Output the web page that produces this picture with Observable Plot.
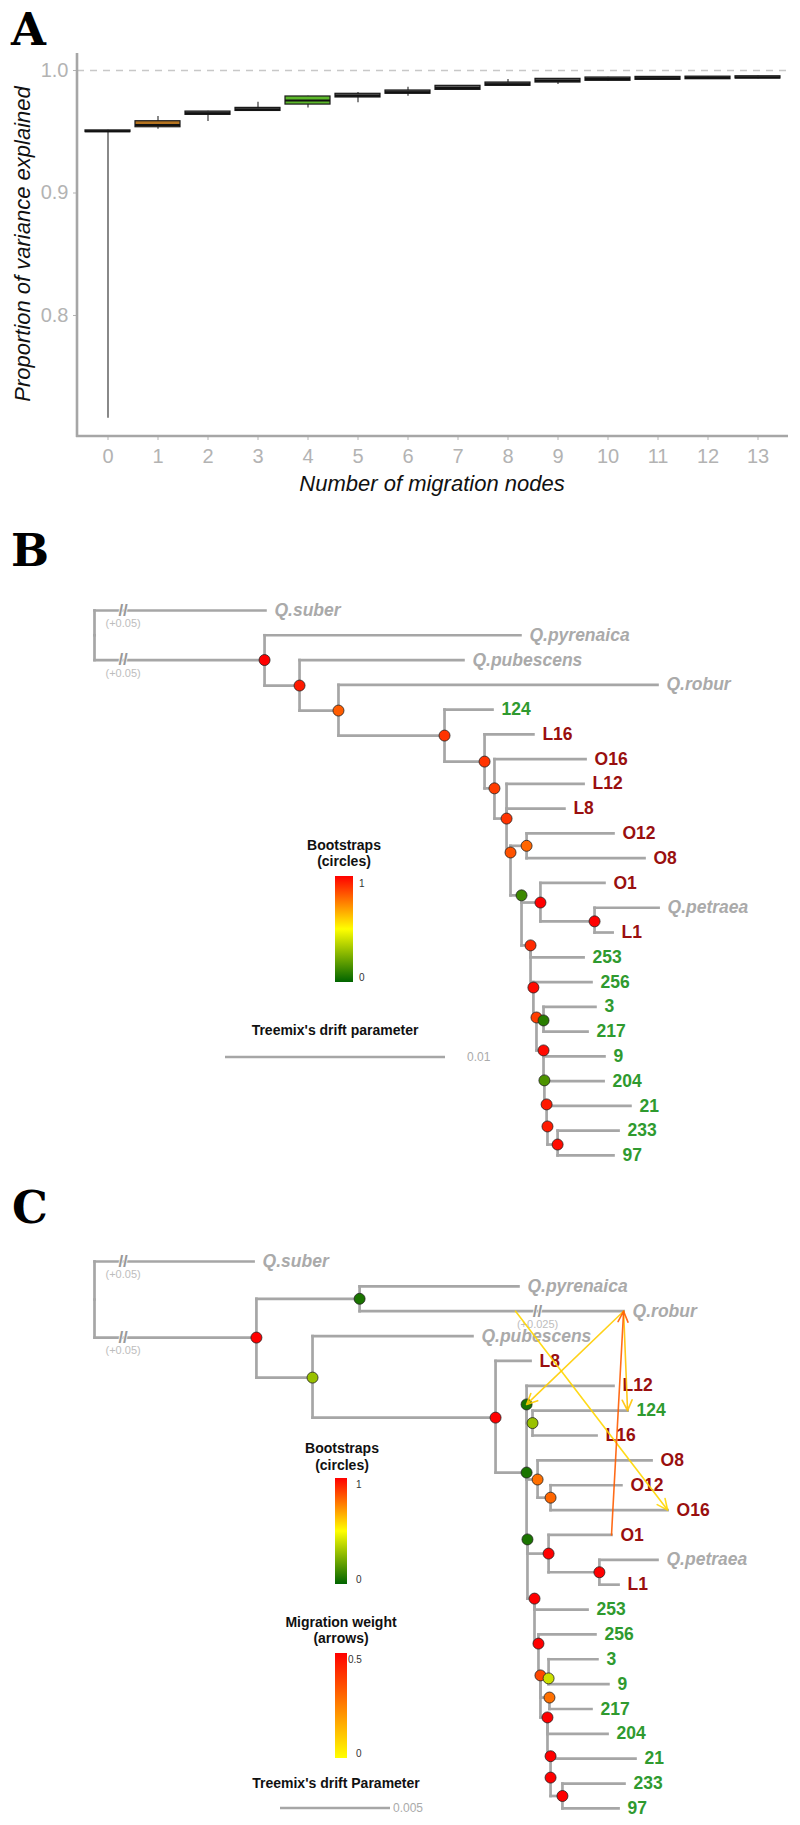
<!DOCTYPE html>
<html><head><meta charset="utf-8">
<script src="https://cdn.jsdelivr.net/npm/d3@7"></script>
<script src="https://cdn.jsdelivr.net/npm/@observablehq/plot@0.6"></script>
<style>
body{margin:0;background:#fff;}
#wrap{position:relative;width:800px;height:1825px;overflow:hidden;background:#fff;}
.panel{position:absolute;left:0;}
.panel svg{display:block;}
</style></head><body><div id="wrap"></div>
<script>
// ---------------- Panel A data ----------------
const migrationNodes = [0,1,2,3,4,5,6,7,8,9,10,11,12,13];
const boxQ1     = [0.9497,0.9537,0.9638,0.9670,0.9722,0.9780,0.9810,0.9842,0.9875,0.9902,0.9916,0.9924,0.9929,0.9935];
const boxMedian = [0.9504,0.9555,0.9652,0.9682,0.9755,0.9795,0.9823,0.9858,0.9888,0.9917,0.9930,0.9936,0.9940,0.9944];
const boxQ3     = [0.9511,0.9586,0.9665,0.9695,0.9788,0.9810,0.9837,0.9875,0.9902,0.9932,0.9943,0.9948,0.9950,0.9953];
const whiskerLow  = [0.716,0.9520,0.9584,0.9668,0.9695,0.9736,0.9790,0.9838,0.9870,0.9886,0.9912,0.9922,0.9927,0.9933];
const whiskerHigh = [0.9512,0.9624,0.9668,0.9741,0.9790,0.9820,0.9864,0.9878,0.9927,0.9934,0.9945,0.9950,0.9952,0.9955];
const yTicksA = [0.8, 0.9, 1.0];
const referenceLine = 1.0;

// ---------------- Panel B tree ----------------
// [id, parent, drift, row, bootstrap]
const nodesB = [
  ["R",null,0,1,null],
  ["N1","R",0.00773,2,1.0],
  ["N2","N1",0.00932,3.03,0.95],
  ["N3","N2",0.01109,4.04,0.82],
  ["N4","N3",0.01591,5.05,0.9],
  ["N5","N4",0.01773,6.1,0.9],
  ["N6","N5",0.01818,7.18,0.88],
  ["N7","N6",0.01873,8.4,0.9],
  ["N8","N7",0.01891,9.77,0.84],
  ["ON","N8",0.01964,9.5,0.8],
  ["G","N8",0.01941,11.5,0.12],
  ["O1N","G",0.02027,11.79,1.0],
  ["PN","O1N",0.02273,12.55,1.0],
  ["H","G",0.01982,13.52,0.92],
  ["I","H",0.01995,15.22,0.98],
  ["J","I",0.02009,16.43,0.88],
  ["K","J",0.02041,16.55,0.08],
  ["L","J",0.02041,17.76,0.98],
  ["M","L",0.02045,18.97,0.15],
  ["N","M",0.02055,19.94,0.95],
  ["P","N",0.02059,20.83,0.95],
  ["Q","P",0.02105,21.56,0.98]
];
// [label, parent, drift, row, group]
const tipsB = [
  ["Q.suber","R",0.00777,0,"species"],
  ["Q.pyrenaica","N1",0.01936,1,"species"],
  ["Q.pubescens","N2",0.01677,2,"species"],
  ["Q.robur","N3",0.02559,3,"species"],
  ["124","N4",0.01809,4,"num"],
  ["L16","N5",0.01995,5,"pop"],
  ["O16","N6",0.02232,6,"pop"],
  ["L12","N7",0.02223,7,"pop"],
  ["L8","N7",0.02136,8,"pop"],
  ["O12","ON",0.02359,9,"pop"],
  ["O8","ON",0.0250,10,"pop"],
  ["O1","O1N",0.02318,11,"pop"],
  ["Q.petraea","PN",0.02564,12,"species"],
  ["L1","PN",0.02355,13,"pop"],
  ["253","H",0.02223,14,"num"],
  ["256","I",0.02259,15,"num"],
  ["3","K",0.02277,16,"num"],
  ["217","K",0.02241,17,"num"],
  ["9","L",0.02318,18,"num"],
  ["204","M",0.02314,19,"num"],
  ["21","N",0.02436,20,"num"],
  ["233","Q",0.02382,21,"num"],
  ["97","Q",0.02359,22,"num"]
];
// [branch end, drift where break sits, label]
const breaksB = [["Q.suber",0.0013,"(+0.05)"],["N1",0.0013,"(+0.05)"]];

// ---------------- Panel C tree ----------------
const nodesC = [
  ["R",null,0,1.53,null],
  ["N1C","R",0.00736,3.06,1.0],
  ["PR","N1C",0.01205,1.5,0.05],
  ["N2C","N1C",0.00991,4.67,0.3],
  ["N3C","N2C",0.01823,6.28,1.0],
  ["N4C","N3C",0.01964,8.49,0.05],
  ["A_C","N4C",0.01964,5.75,0.05],
  ["B_C","A_C",0.01991,6.5,0.3],
  ["OC","N4C",0.02014,8.77,0.78],
  ["OC2","OC",0.02073,9.5,0.8],
  ["G_C","N4C",0.01968,11.18,0.05],
  ["O1N","G_C",0.02064,11.75,1.0],
  ["PN","O1N",0.02295,12.5,1.0],
  ["H_C","G_C",0.0200,13.56,1.0],
  ["I_C","H_C",0.02018,15.37,1.0],
  ["J_C","I_C",0.02027,16.65,0.86],
  ["K_C","J_C",0.02064,16.77,0.4],
  ["O217","J_C",0.02068,17.54,0.78],
  ["L_C","J_C",0.02059,18.34,1.0],
  ["N_C","L_C",0.02073,19.9,1.0],
  ["P_C","N_C",0.02073,20.76,1.0],
  ["Q_C","P_C",0.02127,21.5,1.0]
];
const tipsC = [
  ["Q.suber","R",0.00723,0,"species"],
  ["Q.pyrenaica","PR",0.01927,1,"species"],
  ["Q.robur","PR",0.02405,2,"species"],
  ["Q.pubescens","N2C",0.01718,3,"species"],
  ["L8","N3C",0.01982,4,"pop"],
  ["L12","A_C",0.02359,5,"pop"],
  ["124","B_C",0.02423,6,"num"],
  ["L16","B_C",0.02282,7,"pop"],
  ["O8","OC",0.02532,8,"pop"],
  ["O12","OC2",0.02395,9,"pop"],
  ["O16","OC2",0.02605,10,"pop"],
  ["O1","O1N",0.0235,11,"pop"],
  ["Q.petraea","PN",0.02559,12,"species"],
  ["L1","PN",0.02382,13,"pop"],
  ["253","H_C",0.02241,14,"num"],
  ["256","I_C",0.02277,15,"num"],
  ["3","K_C",0.02286,16,"num"],
  ["9","K_C",0.02336,17,"num"],
  ["217","O217",0.02259,18,"num"],
  ["204","L_C",0.02332,19,"num"],
  ["21","N_C",0.02459,20,"num"],
  ["233","Q_C",0.02409,21,"num"],
  ["97","Q_C",0.02382,22,"num"]
];
const breaksC = [["Q.suber",0.0013,"(+0.05)"],["N1C",0.0013,"(+0.05)"],["Q.robur",0.02014,"(+0.025)"]];
// [from, drift on source branch (null = node itself), to, weight]
const migrationsC = [
  ["Q.robur",0.01914,"O16",0.08],
  ["Q.robur",null,"A_C",0.10],
  ["Q.robur",null,"124",0.12],
  ["O1",null,"Q.robur",0.32]
];

// ---------------- styles ----------------
const FONT = "'Liberation Sans', Arial, Helvetica, sans-serif";
const TREE = "#a6a6a6";
const AXIS = "#a6a6a6";
const TICK_TXT = "#b3b3b3";
const highlight = {1: "#b5731f", 4: "#5cb82a"};
const groupColor = {species: "#aaaaaa", pop: "#990f0f", num: "#2f9a2f"};
const bootColor = d3.scaleLinear().domain([0, 0.5, 1]).range(["#006400", "#ffff00", "#ff0000"]);
const migColor = d3.scaleLinear().domain([0, 0.5]).range(["#ffff00", "#ff0000"]);

const wrap = document.getElementById("wrap");
function place(el, top) {
  const d = document.createElement("div");
  d.className = "panel"; d.style.top = top + "px";
  d.appendChild(el); wrap.appendChild(d);
}
function letter(svg, t, x, y) {
  d3.select(svg).append("text").attr("x", x).attr("y", y).text(t)
    .attr("text-anchor", "start")
    .attr("font-family", "'DejaVu Serif', 'Liberation Serif', serif")
    .attr("font-weight", "bold").attr("font-size", 45).attr("fill", "#000");
}

// ---------------- Panel A ----------------
const boxes = migrationNodes.map((n, i) => ({n, q1: boxQ1[i], q3: boxQ3[i], med: boxMedian[i], lo: whiskerLow[i], hi: whiskerHigh[i]}));
const yDomainA = [0.7012, 1.0139];
const plotA = Plot.plot({
  width: 800, height: 530,
  marginLeft: 77, marginRight: 12, marginTop: 53, marginBottom: 94,
  style: {fontFamily: FONT, background: "white", overflow: "visible"},
  x: {type: "band", domain: migrationNodes, paddingInner: 0.1, paddingOuter: 0.15, axis: null},
  y: {domain: yDomainA, axis: null},
  color: {type: "identity"},
  marks: [
    Plot.ruleY([referenceLine], {stroke: "#c8c8c8", strokeWidth: 1.4, strokeDasharray: "7,6"}),
    Plot.ruleX(boxes, {x: "n", y1: "lo", y2: "hi", stroke: "#6b6b6b", strokeWidth: 1.6}),
    Plot.barY(boxes, {x: "n", y1: "q1", y2: "q3", fill: d => highlight[d.n] ?? "#5a5a5a", stroke: "#1a1a1a", strokeWidth: 1.2}),
    Plot.tickY(boxes, {x: "n", y: "med", stroke: "#111", strokeWidth: 2}),
    Plot.axisX({tickSize: 4, tickPadding: 8, fontSize: 20, color: TICK_TXT, label: null}),
    Plot.axisY({ticks: yTicksA, tickFormat: d => d.toFixed(1), tickSize: 4, tickPadding: 5, fontSize: 20, color: TICK_TXT, label: null})
  ]
});
{
  const s = d3.select(plotA);
  s.append("line").attr("x1", 77).attr("x2", 77).attr("y1", 53).attr("y2", 437).attr("stroke", AXIS).attr("stroke-width", 2.6);
  s.append("line").attr("x1", 76).attr("x2", 788).attr("y1", 436).attr("y2", 436).attr("stroke", AXIS).attr("stroke-width", 2.6);
  s.append("text").attr("x", 432).attr("y", 491).attr("text-anchor", "middle")
    .attr("font-family", FONT).attr("font-style", "italic").attr("font-size", 22).attr("fill", "#111")
    .text("Number of migration nodes");
  s.append("text").attr("transform", "translate(30,244) rotate(-90)").attr("text-anchor", "middle")
    .attr("font-family", FONT).attr("font-style", "italic").attr("font-size", 22).attr("fill", "#111")
    .text("Proportion of variance explained");
  letter(plotA, "A", 11, 45);
}
place(plotA, 0);

// ---------------- tree helper ----------------
function buildTree(nodes, tips) {
  const all = new Map();
  nodes.forEach(([id, parent, drift, row, boot]) => all.set(id, {id, parent, drift, row, boot}));
  tips.forEach(([id, parent, drift, row, group]) => all.set(id, {id, parent, drift, row, group, tip: true}));
  const segs = [];
  for (const n of all.values()) {
    if (!n.parent) continue;
    const p = all.get(n.parent);
    segs.push({x1: p.drift, y1: p.row, x2: p.drift, y2: n.row});
    segs.push({x1: p.drift, y1: n.row, x2: n.drift, y2: n.row});
  }
  const inner = [...all.values()].filter(n => !n.tip && n.boot != null);
  const tipList = [...all.values()].filter(n => n.tip);
  return {all, segs, inner, tipList};
}
function treeMarks(T, breaks) {
  const br = breaks.map(([id, at, label]) => ({at, row: T.all.get(id).row, label}));
  return [
    Plot.link(T.segs, {x1: "x1", y1: "y1", x2: "x2", y2: "y2", stroke: TREE, strokeWidth: 2.7, strokeLinecap: "square"}),
    Plot.text(br, {x: "at", y: "row", text: () => "//", fontSize: 17, fontWeight: "bold", fill: "#999", stroke: "white", strokeWidth: 1.5, paintOrder: "stroke"}),
    Plot.text(br, {x: "at", y: "row", text: "label", dy: 13, fontSize: 11, fill: "#bdbdbd"}),
    Plot.text(T.tipList.filter(d => d.group === "species"), {x: "drift", y: "row", text: "id", dx: 9, textAnchor: "start", fill: groupColor.species, fontSize: 17.5, fontWeight: "bold", fontStyle: "italic"}),
    Plot.text(T.tipList.filter(d => d.group !== "species"), {x: "drift", y: "row", text: "id", dx: 9, textAnchor: "start", fill: d => groupColor[d.group], fontSize: 17.5, fontWeight: "bold"})
  ];
}
function gradientBar(svg, id, scale, domain, x, y, w, h) {
  const s = d3.select(svg);
  const g = s.append("defs").append("linearGradient").attr("id", id)
    .attr("x1", 0).attr("y1", 1).attr("x2", 0).attr("y2", 0);
  d3.range(0, 1.0001, 0.1).forEach(t => g.append("stop").attr("offset", t).attr("stop-color", scale(domain[0] + t * (domain[1] - domain[0]))));
  s.append("rect").attr("x", x).attr("y", y).attr("width", w).attr("height", h).attr("fill", `url(#${id})`);
}
function txt(svg, t, x, y, o = {}) {
  d3.select(svg).append("text").attr("x", x).attr("y", y).text(t)
    .attr("font-family", FONT).attr("font-size", o.size ?? 14).attr("font-weight", o.weight ?? "bold")
    .attr("fill", o.fill ?? "#111").attr("text-anchor", o.anchor ?? "middle")
    .attr("dominant-baseline", o.baseline ?? "auto");
}

// ---------------- Panel B ----------------
const TB = buildTree(nodesB, tipsB);
const plotB = Plot.plot({
  width: 800, height: 650, margin: 0,
  style: {fontFamily: FONT, background: "white", overflow: "visible"},
  x: {domain: [0, 0.03], range: [94, 754], axis: null},
  y: {domain: [0, 22], range: [80, 80 + 22 * 24.77], axis: null},
  color: {type: "identity"},
  marks: [
    ...treeMarks(TB, breaksB),
    Plot.dot(TB.inner, {x: "drift", y: "row", r: 5.5, fill: d => bootColor(d.boot), stroke: "#222", strokeWidth: 0.8})
  ]
});
{
  const sx = plotB.scale("x");
  letter(plotB, "B", 11, 36);
  txt(plotB, "Bootstraps", 344, 320);
  txt(plotB, "(circles)", 344, 336);
  gradientBar(plotB, "gB", bootColor, [0, 1], 335, 346, 18, 106);
  txt(plotB, "1", 359, 354, {size: 10, weight: "normal", anchor: "start", baseline: "middle", fill: "#333"});
  txt(plotB, "0", 359, 448, {size: 10, weight: "normal", anchor: "start", baseline: "middle", fill: "#333"});
  txt(plotB, "Treemix's drift parameter", 335, 505);
  const len = sx.apply(0.01) - sx.apply(0);
  d3.select(plotB).append("line").attr("x1", 225).attr("x2", 225 + len).attr("y1", 527).attr("y2", 527)
    .attr("stroke", TREE).attr("stroke-width", 2.7);
  txt(plotB, "0.01", 467, 528, {size: 12, weight: "normal", anchor: "start", baseline: "middle", fill: "#aaa"});
}
place(plotB, 530);

// ---------------- Panel C ----------------
const TC = buildTree(nodesC, tipsC);
const migs = migrationsC.map(([from, at, to, w]) => {
  const f = TC.all.get(from), t = TC.all.get(to);
  return {fx: at ?? f.drift, fy: f.row, tx: t.drift, ty: t.row, w};
});
const plotC = Plot.plot({
  width: 800, height: 645, margin: 0,
  style: {fontFamily: FONT, background: "white", overflow: "visible"},
  x: {domain: [0, 0.03], range: [94, 754], axis: null},
  y: {domain: [0, 22], range: [81, 81 + 22 * 24.86], axis: null},
  color: {type: "identity"},
  marks: [
    ...treeMarks(TC, breaksC),
    Plot.dot(TC.inner, {x: "drift", y: "row", r: 5.5, fill: d => bootColor(d.boot), stroke: "#222", strokeWidth: 0.8}),
    Plot.arrow(migs, {x1: "fx", y1: "fy", x2: "tx", y2: "ty", stroke: d => migColor(d.w), strokeWidth: 1.6, headLength: 11, headAngle: 50, strokeOpacity: 0.9})
  ]
});
{
  const sx = plotC.scale("x");
  letter(plotC, "C", 12, 43);
  txt(plotC, "Bootstraps", 342, 273);
  txt(plotC, "(circles)", 342, 290);
  gradientBar(plotC, "gC1", bootColor, [0, 1], 335, 298, 12, 106);
  txt(plotC, "1", 356, 305, {size: 10, weight: "normal", anchor: "start", baseline: "middle", fill: "#333"});
  txt(plotC, "0", 356, 400, {size: 10, weight: "normal", anchor: "start", baseline: "middle", fill: "#333"});
  txt(plotC, "Migration weight", 341, 447);
  txt(plotC, "(arrows)", 341, 463);
  gradientBar(plotC, "gC2", migColor, [0, 0.5], 335, 473, 12, 105);
  txt(plotC, "0.5", 348, 480, {size: 10, weight: "normal", anchor: "start", baseline: "middle", fill: "#333"});
  txt(plotC, "0", 356, 574, {size: 10, weight: "normal", anchor: "start", baseline: "middle", fill: "#333"});
  txt(plotC, "Treemix's drift Parameter", 336, 608);
  const len = sx.apply(0.005) - sx.apply(0);
  d3.select(plotC).append("line").attr("x1", 280).attr("x2", 280 + len).attr("y1", 628).attr("y2", 628)
    .attr("stroke", TREE).attr("stroke-width", 2.7);
  txt(plotC, "0.005", 393, 629, {size: 12, weight: "normal", anchor: "start", baseline: "middle", fill: "#aaa"});
}
place(plotC, 1180);
</script></body></html>
